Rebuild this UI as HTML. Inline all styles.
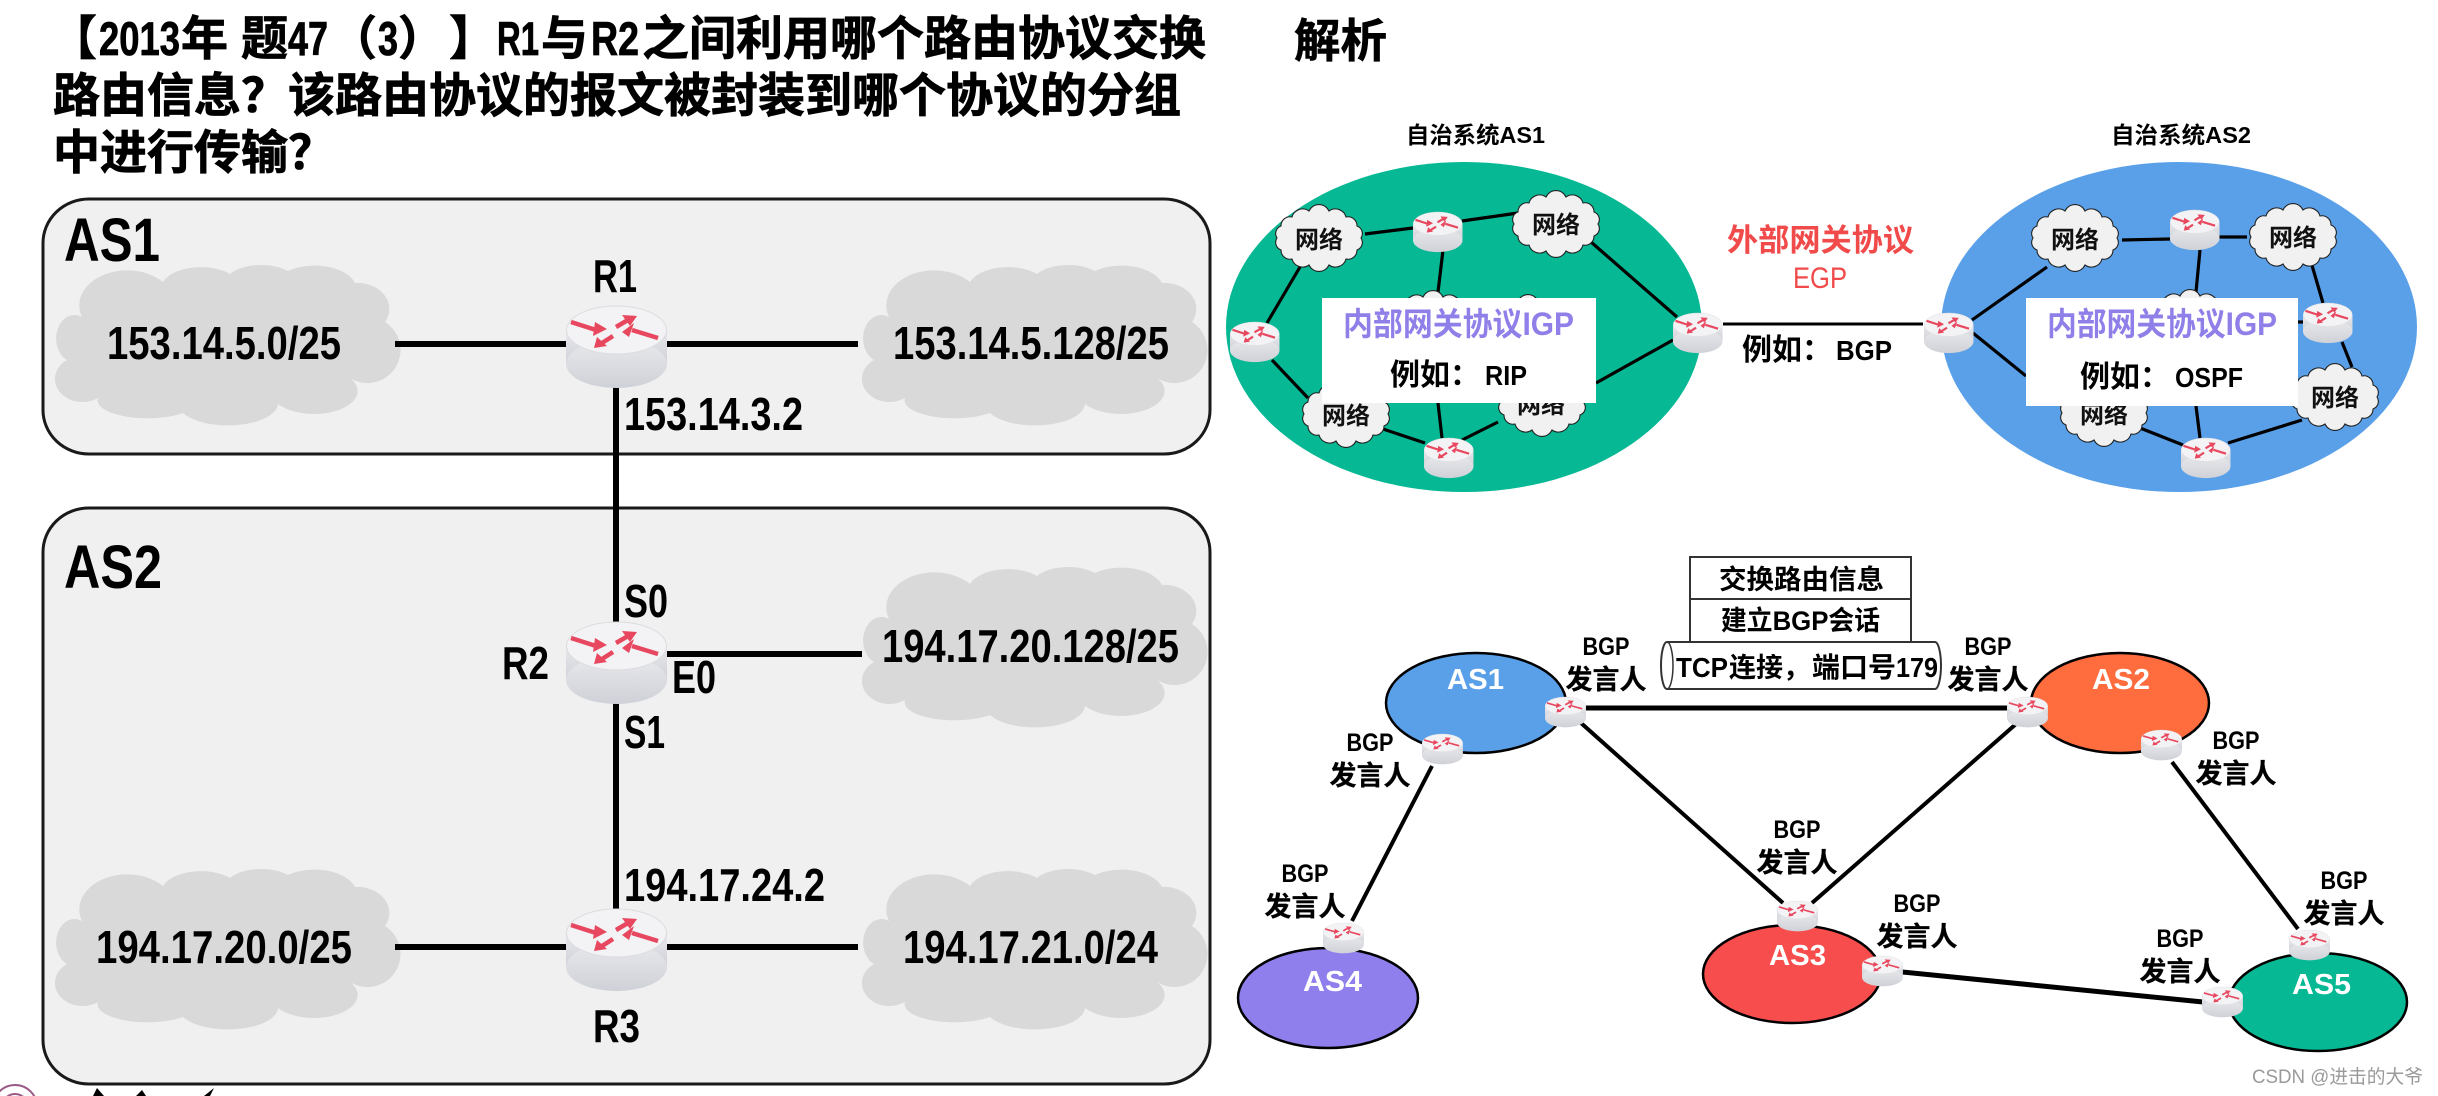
<!DOCTYPE html>
<html lang="zh">
<head>
<meta charset="utf-8">
<title>BGP diagram</title>
<style>
html,body{margin:0;padding:0;background:#fff;width:2438px;height:1096px;overflow:hidden}
svg{display:block}
text{font-family:"Liberation Sans","Noto Sans CJK SC",sans-serif;font-weight:700;fill:#000}
.t{font-size:47px;stroke:#000;stroke-width:.8px}
.n{font-size:24px;text-anchor:middle;fill:#111}
.b{font-size:25px;text-anchor:middle}
.s{font-size:27px;text-anchor:middle;stroke:#000;stroke-width:.3px}
</style>
</head>
<body>
<svg xmlns="http://www.w3.org/2000/svg" width="2438" height="1096" viewBox="0 0 2438 1096">
<defs>
<linearGradient id="body" x1="0" x2="0" y1="0" y2="1"><stop offset="0" stop-color="#e8e9ec"/><stop offset="1" stop-color="#cfd1d8"/></linearGradient>
<g id="rt">
<rect x="0" y="24" width="101" height="34" fill="url(#body)"/>
<ellipse cx="50.5" cy="58" rx="50.5" ry="24" fill="url(#body)"/>
<ellipse cx="50.5" cy="24" rx="50" ry="24" fill="#f3f3f5" stroke="#dcdce0" stroke-width="1"/>
<g stroke="#e8485f" stroke-width="4.5" fill="none"><line x1="5" y1="16" x2="30" y2="24"/><line x1="50" y1="21" x2="62" y2="14"/><line x1="92" y1="32" x2="66" y2="24"/><line x1="47" y1="30" x2="36" y2="37"/></g>
<g fill="#e8485f"><polygon points="41,23 29,16 27,30"/><polygon points="71,10 56,9 64,20"/><polygon points="56,26 68,17 63,31"/><polygon points="28,42 31,31 41,40"/></g>
</g>
<path id="cl" fill="#d9d9d9" d="M42,67 A48,35 0 0 1 123,32 A40,22 0 0 1 190,24 A36,18 0 0 1 248,21 A42,24 0 0 1 315,33 A32,26 0 0 1 345,72 A30,30 0 0 1 310,128 A38,20 0 0 1 238,154 A50,22 0 0 1 143,163 A50,18 0 0 1 58,148 A24,20 0 0 1 27,110 A18,23 0 0 1 42,67 Z"/>
<path id="nc" fill="#f1f1f1" stroke="#222" stroke-width="1.1" d="M-42,0 A8,8 0 0 1 -38,-12 A9,9 0 0 1 -27,-21 A11,11 0 0 1 -10,-27 A11,11 0 0 1 10,-27 A11,11 0 0 1 27,-21 A9,9 0 0 1 38,-12 A8,8 0 0 1 42,0 A8,8 0 0 1 38,12 A9,9 0 0 1 27,21 A11,11 0 0 1 10,27 A11,11 0 0 1 -10,27 A11,11 0 0 1 -27,21 A9,9 0 0 1 -38,12 A8,8 0 0 1 -42,0 Z"/>
</defs>

<!-- Title -->
<text class="t" x="50" y="55">&#x3010;</text>
<text class="t" x="99" y="55" textLength="81" lengthAdjust="spacingAndGlyphs">2013</text>
<text class="t" x="181" y="55">年</text>
<text class="t" x="241" y="55">题</text>
<text class="t" x="288" y="55" textLength="40" lengthAdjust="spacingAndGlyphs">47</text>
<text class="t" x="330" y="55">&#xFF08;</text>
<text class="t" x="378" y="55" textLength="20" lengthAdjust="spacingAndGlyphs">3</text>
<text class="t" x="398" y="55">&#xFF09;</text>
<text class="t" x="449" y="55">&#x3011;</text>
<text class="t" x="497" y="55" textLength="42" lengthAdjust="spacingAndGlyphs">R1</text>
<text class="t" x="541" y="55">与</text>
<text class="t" x="591" y="55" textLength="48" lengthAdjust="spacingAndGlyphs">R2</text>
<text class="t" x="642" y="55">之间利用哪个路由协议交换</text>
<text class="t" x="53" y="112">路由信息&#xFF1F;该路由协议的报文被封装到哪个协议的分组</text>
<text class="t" x="53" y="169">中进行传输&#xFF1F;</text>
<text x="1294" y="57" textLength="93" lengthAdjust="spacingAndGlyphs" style="font-size:46px;stroke:#000;stroke-width:.6px">解析</text>

<!-- Left panel -->
<rect x="43" y="199" width="1167" height="255" rx="46" ry="44" fill="#f0f0f0" stroke="#1a1a1a" stroke-width="3"/>
<rect x="43" y="508" width="1167" height="576" rx="46" ry="44" fill="#f0f0f0" stroke="#1a1a1a" stroke-width="3"/>
<use href="#cl" x="40" y="250"/><use href="#cl" x="847" y="250"/><use href="#cl" x="847" y="552"/><use href="#cl" x="40" y="854"/><use href="#cl" x="847" y="854"/>
<g stroke="#000" stroke-width="6" fill="none">
<line x1="395" y1="344" x2="570" y2="344"/><line x1="660" y1="344" x2="858" y2="344"/>
<line x1="616" y1="380" x2="616" y2="630"/><line x1="616" y1="700" x2="616" y2="915"/>
<line x1="660" y1="654" x2="862" y2="654"/>
<line x1="395" y1="947" x2="570" y2="947"/><line x1="660" y1="947" x2="858" y2="947"/>
</g>
<use href="#rt" x="566" y="306"/><use href="#rt" x="566" y="622"/><use href="#rt" x="566" y="909"/>

<text x="64" y="261" textLength="96" lengthAdjust="spacingAndGlyphs" style="font-size:61px">AS1</text>
<text x="64" y="588" textLength="98" lengthAdjust="spacingAndGlyphs" style="font-size:61px">AS2</text>
<text x="593" y="292" textLength="44" lengthAdjust="spacingAndGlyphs" style="font-size:46px">R1</text>
<text x="107" y="359" textLength="234" lengthAdjust="spacingAndGlyphs" style="font-size:46px">153.14.5.0/25</text>
<text x="893" y="359" textLength="276" lengthAdjust="spacingAndGlyphs" style="font-size:46px">153.14.5.128/25</text>
<text x="624" y="430" textLength="179" lengthAdjust="spacingAndGlyphs" style="font-size:46px">153.14.3.2</text>
<text x="624" y="617" textLength="44" lengthAdjust="spacingAndGlyphs" style="font-size:46px">S0</text>
<text x="502" y="679" textLength="47" lengthAdjust="spacingAndGlyphs" style="font-size:46px">R2</text>
<text x="672" y="693" textLength="44" lengthAdjust="spacingAndGlyphs" style="font-size:46px">E0</text>
<text x="624" y="748" textLength="41" lengthAdjust="spacingAndGlyphs" style="font-size:46px">S1</text>
<text x="882" y="662" textLength="297" lengthAdjust="spacingAndGlyphs" style="font-size:46px">194.17.20.128/25</text>
<text x="624" y="901" textLength="201" lengthAdjust="spacingAndGlyphs" style="font-size:46px">194.17.24.2</text>
<text x="96" y="963" textLength="256" lengthAdjust="spacingAndGlyphs" style="font-size:46px">194.17.20.0/25</text>
<text x="903" y="963" textLength="255" lengthAdjust="spacingAndGlyphs" style="font-size:46px">194.17.21.0/24</text>
<text x="593" y="1042" textLength="47" lengthAdjust="spacingAndGlyphs" style="font-size:46px">R3</text>
<!-- cut-off logo -->
<circle cx="15" cy="1107" r="22" fill="none" stroke="#9a5a88" stroke-width="2"/>
<circle cx="15" cy="1107" r="13" fill="none" stroke="#9a5a88" stroke-width="2"/>
<path d="M93,1096 L97,1088 L104,1096 Z M136,1096 L142,1090 L146,1096 Z M204,1096 L214,1088 L210,1096 Z" fill="#000"/>

<!-- Right top: AS1 / AS2 -->
<text x="1406" y="143" textLength="139" lengthAdjust="spacingAndGlyphs" style="font-size:23px">自治系统AS1</text>
<text x="2111" y="143" textLength="140" lengthAdjust="spacingAndGlyphs" style="font-size:23px">自治系统AS2</text>
<ellipse cx="1464" cy="327" rx="238" ry="165" fill="#06b894"/>
<ellipse cx="2179" cy="327" rx="238" ry="165" fill="#5aa0e8"/>
<g stroke="#000" stroke-width="3.2" fill="none">
<line x1="1365" y1="234" x2="1413" y2="228"/><line x1="1462" y1="221" x2="1518" y2="213"/><line x1="1443" y1="250" x2="1438" y2="292"/><line x1="1591" y1="242" x2="1677" y2="317"/><line x1="1300" y1="267" x2="1267" y2="323"/><line x1="1272" y1="360" x2="1308" y2="398"/><line x1="1383" y1="429" x2="1425" y2="443"/><line x1="1462" y1="440" x2="1498" y2="422"/><line x1="1438" y1="403" x2="1442" y2="438"/><line x1="1596" y1="383" x2="1673" y2="340"/>
<line x1="2122" y1="240" x2="2170" y2="239"/><line x1="2219" y1="237" x2="2247" y2="237"/><line x1="2200" y1="250" x2="2196" y2="292"/><line x1="2311" y1="262" x2="2323" y2="303"/><line x1="2342" y1="342" x2="2352" y2="367"/><line x1="2298" y1="322" x2="2303" y2="322"/><line x1="2047" y1="267" x2="1972" y2="320"/><line x1="1973" y1="333" x2="2026" y2="376"/><line x1="2196" y1="406" x2="2200" y2="438"/><line x1="2140" y1="428" x2="2183" y2="445"/><line x1="2228" y1="443" x2="2302" y2="420"/>
</g>
<use href="#nc" transform="translate(1319,238)"/><use href="#nc" transform="translate(1556,224)"/><use href="#nc" transform="translate(1346,414)"/><use href="#nc" transform="translate(1542,403)"/><use href="#nc" transform="translate(1433,324)"/><use href="#nc" transform="translate(1528,328)"/>
<use href="#nc" transform="translate(2075,238)"/><use href="#nc" transform="translate(2293,237)"/><use href="#nc" transform="translate(2335,397)"/><use href="#nc" transform="translate(2104,413)"/><use href="#nc" transform="translate(2190,323)"/>
<text class="n" x="1319" y="248">网络</text><text class="n" x="1556" y="233">网络</text><text class="n" x="1346" y="424">网络</text><text class="n" x="1541" y="413">网络</text>
<text class="n" x="2075" y="248">网络</text><text class="n" x="2293" y="246">网络</text><text class="n" x="2335" y="406">网络</text><text class="n" x="2104" y="423">网络</text>
<rect x="1322" y="298" width="274" height="105" fill="#fff"/>
<rect x="2026" y="298" width="272" height="108" fill="#fff"/>
<use href="#rt" transform="translate(1413,212) scale(.49)"/><use href="#rt" transform="translate(1230,322) scale(.49)"/><use href="#rt" transform="translate(1673,313) scale(.49)"/><use href="#rt" transform="translate(1424,438) scale(.49)"/>
<use href="#rt" transform="translate(1924,313) scale(.49)"/><use href="#rt" transform="translate(2170,210) scale(.49)"/><use href="#rt" transform="translate(2303,303) scale(.49)"/><use href="#rt" transform="translate(2181,438) scale(.49)"/>
<text x="1343" y="335" textLength="231" lengthAdjust="spacingAndGlyphs" style="font-size:32px;fill:#8f7fe8">内部网关协议IGP</text>
<text x="2047" y="335" textLength="230" lengthAdjust="spacingAndGlyphs" style="font-size:32px;fill:#8f7fe8">内部网关协议IGP</text>
<text x="1390" y="385" style="font-size:30px">例如&#xFF1A;</text>
<text x="1485" y="385" textLength="42" lengthAdjust="spacingAndGlyphs" style="font-size:28px">RIP</text>
<text x="2080" y="387" style="font-size:30px">例如&#xFF1A;</text>
<text x="2175" y="387" textLength="68" lengthAdjust="spacingAndGlyphs" style="font-size:28px">OSPF</text>
<text x="1727" y="251" textLength="187" lengthAdjust="spacingAndGlyphs" style="font-size:31px;fill:#f04a4a">外部网关协议</text>
<text x="1793" y="288" textLength="54" lengthAdjust="spacingAndGlyphs" style="font-size:30px;fill:#f04a4a;font-weight:400">EGP</text>
<line x1="1723" y1="324" x2="1923" y2="324" stroke="#000" stroke-width="3"/>
<text x="1742" y="360" style="font-size:30px">例如&#xFF1A;</text>
<text x="1836" y="360" textLength="56" lengthAdjust="spacingAndGlyphs" style="font-size:28px">BGP</text>

<!-- Right bottom: BGP -->
<rect x="1690" y="557" width="221" height="42" fill="#fff" stroke="#333" stroke-width="2"/>
<rect x="1690" y="599" width="221" height="43" fill="#fff" stroke="#333" stroke-width="2"/>
<path d="M1667,642 H1935 A6,23.5 0 0 1 1935,689 H1667 A6,23.5 0 0 1 1667,642 Z" fill="#fff" stroke="#333" stroke-width="2"/>
<path d="M1667,642 A6,23.5 0 0 1 1667,689" fill="none" stroke="#333" stroke-width="1.5"/>
<text x="1719" y="589" textLength="165" lengthAdjust="spacingAndGlyphs" style="font-size:27px">交换路由信息</text>
<text x="1721" y="630" textLength="159" lengthAdjust="spacingAndGlyphs" style="font-size:27px">建立BGP会话</text>
<text x="1676" y="677" textLength="52" lengthAdjust="spacingAndGlyphs" style="font-size:28px">TCP</text>
<text x="1729" y="677" style="font-size:27px">连接&#xFF0C;</text>
<text x="1812" y="677" style="font-size:28px">端口号</text>
<text x="1896" y="677" textLength="42" lengthAdjust="spacingAndGlyphs" style="font-size:28px">179</text>

<g stroke="#000" stroke-width="2.5">
<ellipse cx="1476" cy="703" rx="90" ry="50" fill="#5aa0e8"/>
<ellipse cx="2120" cy="703" rx="89" ry="50" fill="#ff6c3e"/>
<ellipse cx="1792" cy="974" rx="89" ry="49" fill="#f84d4d"/>
<ellipse cx="1328" cy="998" rx="90" ry="50" fill="#8f7fec"/>
<ellipse cx="2318" cy="1002" rx="89" ry="49" fill="#06b894"/>
</g>
<g stroke="#000" fill="none">
<line x1="1586" y1="708" x2="2010" y2="708" stroke-width="5"/>
<line x1="1581" y1="723" x2="1783" y2="903" stroke-width="4"/>
<line x1="2016" y1="724" x2="1812" y2="903" stroke-width="4"/>
<line x1="1432" y1="766" x2="1352" y2="921" stroke-width="4"/>
<line x1="2172" y1="762" x2="2298" y2="929" stroke-width="4"/>
<line x1="1902" y1="972" x2="2203" y2="1002" stroke-width="5"/>
</g>
<g>
<use href="#rt" transform="translate(1545,697) scale(.405,.37)"/><use href="#rt" transform="translate(2007,697) scale(.405,.37)"/><use href="#rt" transform="translate(1422,734) scale(.405,.37)"/><use href="#rt" transform="translate(2141,730) scale(.405,.37)"/><use href="#rt" transform="translate(1777,901) scale(.405,.37)"/><use href="#rt" transform="translate(1323,923) scale(.405,.37)"/><use href="#rt" transform="translate(1862,956) scale(.405,.37)"/><use href="#rt" transform="translate(2202,987) scale(.405,.37)"/><use href="#rt" transform="translate(2289,930) scale(.405,.37)"/>
</g>

<text x="1447" y="689" textLength="57" lengthAdjust="spacingAndGlyphs" style="font-size:29px;fill:#fff">AS1</text>
<text x="2092" y="689" textLength="58" lengthAdjust="spacingAndGlyphs" style="font-size:29px;fill:#fff">AS2</text>
<text x="1769" y="965" textLength="57" lengthAdjust="spacingAndGlyphs" style="font-size:29px;fill:#fff">AS3</text>
<text x="1303" y="991" textLength="59" lengthAdjust="spacingAndGlyphs" style="font-size:29px;fill:#fff">AS4</text>
<text x="2292" y="994" textLength="59" lengthAdjust="spacingAndGlyphs" style="font-size:29px;fill:#fff">AS5</text>

<text class="b" x="1606" y="655" textLength="47" lengthAdjust="spacingAndGlyphs">BGP</text><text class="s" x="1606" y="689">发言人</text>
<text class="b" x="1988" y="655" textLength="47" lengthAdjust="spacingAndGlyphs">BGP</text><text class="s" x="1988" y="689">发言人</text>
<text class="b" x="1370" y="751" textLength="47" lengthAdjust="spacingAndGlyphs">BGP</text><text class="s" x="1370" y="785">发言人</text>
<text class="b" x="2236" y="749" textLength="47" lengthAdjust="spacingAndGlyphs">BGP</text><text class="s" x="2236" y="783">发言人</text>
<text class="b" x="1797" y="838" textLength="47" lengthAdjust="spacingAndGlyphs">BGP</text><text class="s" x="1797" y="872">发言人</text>
<text class="b" x="1305" y="882" textLength="47" lengthAdjust="spacingAndGlyphs">BGP</text><text class="s" x="1305" y="916">发言人</text>
<text class="b" x="1917" y="912" textLength="47" lengthAdjust="spacingAndGlyphs">BGP</text><text class="s" x="1917" y="946">发言人</text>
<text class="b" x="2180" y="947" textLength="47" lengthAdjust="spacingAndGlyphs">BGP</text><text class="s" x="2180" y="981">发言人</text>
<text class="b" x="2344" y="889" textLength="47" lengthAdjust="spacingAndGlyphs">BGP</text><text class="s" x="2344" y="923">发言人</text>

<text x="2252" y="1083" textLength="171" lengthAdjust="spacingAndGlyphs" style="font-size:19px;font-weight:400;fill:#9a9a9a">CSDN @进击的大爷</text>
</svg>
</body>
</html>
